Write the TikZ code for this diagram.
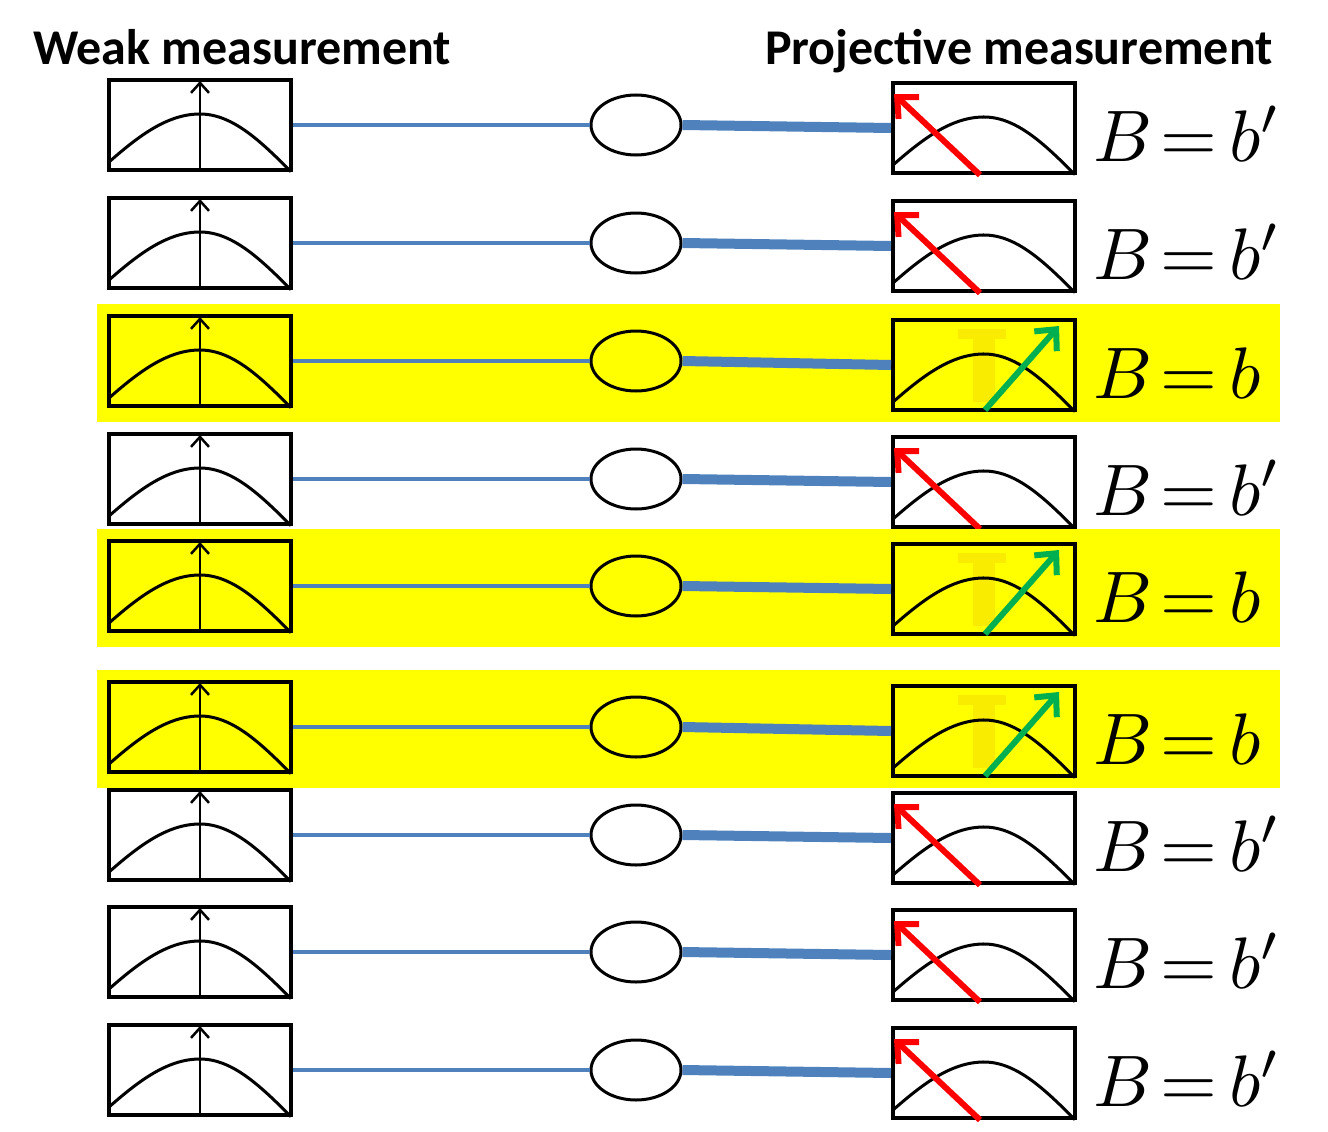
\documentclass[tikz,border=0pt]{standalone}
\usepackage{fontspec}
\usepackage{tikz}
\usetikzlibrary{arrows.meta, shapes.geometric}

\newfontfamily\headfont{Carlito}

\definecolor{linkblue}{RGB}{79,129,189}
\definecolor{hitgreen}{RGB}{0,176,80}
\definecolor{bandyellow}{RGB}{255,255,0}
\definecolor{ghost}{RGB}{249,236,0}

\tikzset{
  head/.style={font=\headfont\bfseries\fontsize{50}{60}\selectfont, inner sep=0, anchor=base west},
  meterbox/.style={draw, line width=4, minimum width=182, minimum height=90, inner sep=0},
  meter/.style={draw, ellipse, line width=3, minimum width=90, minimum height=60, inner sep=0},
  curve/.style={line width=3},
  pointer/.style={line width=2.5, -{Straight Barb[length=10,width=18,line width=2.5]}},
  miss/.style={red, line width=6, -{Straight Barb[length=16,width=30,line width=6]}},
  hit/.style={hitgreen, line width=6, -{Straight Barb[length=16,width=30,line width=6]}},
  outlbl/.style={font=\fontsize{10}{12}\selectfont, scale=7.3, inner sep=0, anchor=base west}
}

% bell curve sitting in a box
\newcommand{\gausscurve}[1]{%
  \begin{scope}[shift={(#1.south)}]
    \draw[curve] plot[domain=-91:0, samples=40] (\x,{-58*cos(0.88*\x)})
      -- plot[domain=0:91, samples=40] (\x,{-58*cos(0.985*\x)});
  \end{scope}}

\begin{document}
\begin{tikzpicture}[x=1pt, y=-1pt]
  \useasboundingbox (0,0) rectangle (1328,1132);

  % Titles
  \node[head] (weakhead) at (33,64) {Weak measurement};
  \node[head] (projhead) at (765,64) {Projective measurement};

  % One row per particle
  \foreach \y/\yr/\hit [count=\i] in {80/83/0, 198/201/0, 316/320/1, 434/437/0, 541/544/1,
                                     682/686/1, 790/793/0, 907/910/0, 1025/1028/0} {
    \ifnum\hit=1
      \fill[bandyellow] (97,\y-12) rectangle (1280,\y+106);
    \fi

    % weak meter
    \node[meterbox] (weak\i) at (200,\y+45) {};
    \gausscurve{weak\i}
    \draw[pointer] (weak\i.south) -- ([yshift=-3]weak\i.north);

    % link and projective meter
    \node[meter] (meter\i) at (636,\y+45) {};
    \node[meterbox] (proj\i) at (984,\yr+45) {};
    \draw[linkblue, line width=4] (weak\i.east) -- (meter\i.west);
    \draw[linkblue, line width=10] (meter\i.east) -- (proj\i.west);

    \ifnum\hit=1
      \draw[ghost, line width=22] ([yshift=-12]proj\i.north) -- ([yshift=10]proj\i.south);
      \draw[ghost, line width=10] ([shift={(-26,16)}]proj\i.north) -- ([shift={(22,16)}]proj\i.north);
      \gausscurve{proj\i}
      \draw[hit] ([shift={(1,-2)}]proj\i.south) -- ([shift={(-18,8)}]proj\i.north east);
      \node[outlbl] (out\i) at (1092,\yr+78) {$B\mkern2mu{=}\mkern3mu b$};
    \else
      \gausscurve{proj\i}
      \draw[miss] ([xshift=-4]proj\i.south) -- ([shift={(3,13)}]proj\i.north west);
      \node[outlbl] (out\i) at (1092,\yr+78) {$B\mkern2mu{=}\mkern3mu b'$};
    \fi
  }
\end{tikzpicture}
\end{document}
